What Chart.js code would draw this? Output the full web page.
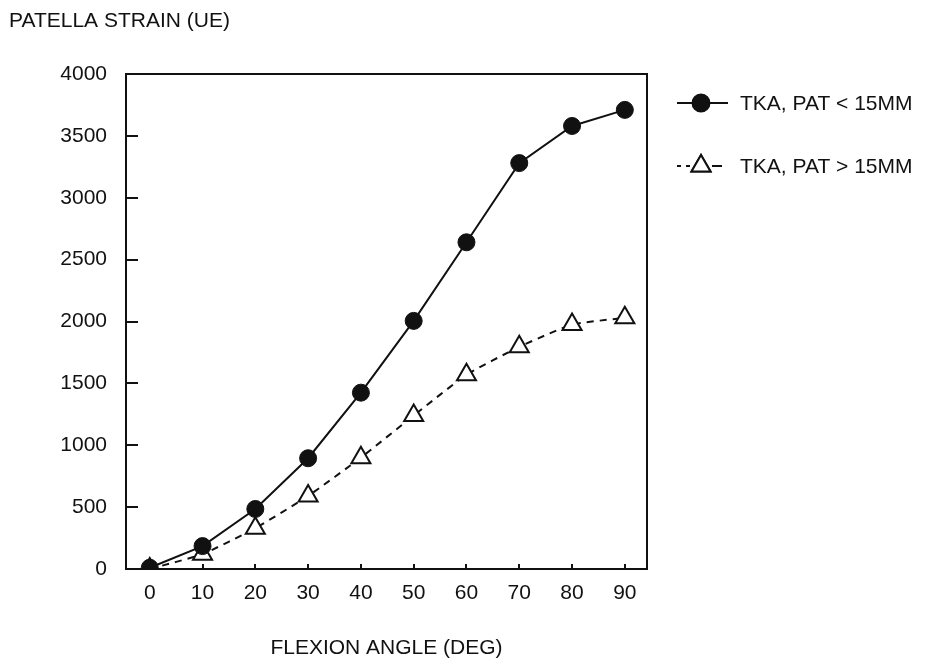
<!DOCTYPE html>
<html>
<head>
<meta charset="utf-8">
<script src="https://cdn.jsdelivr.net/npm/chart.js@4/dist/chart.umd.min.js"></script>
<style>
  html, body { margin: 0; padding: 0; background: #fff; }
  #grafica { display: block; }
</style>
</head>
<body>
<canvas id="grafica" width="928" height="664"></canvas>
<script>
// Datos
const angulos = [0, 10, 20, 30, 40, 50, 60, 70, 80, 90];
const strainMenor15 = [10, 185, 485, 895, 1425, 2005, 2640, 3280, 3580, 3710];
const strainMayor15 = [0, 120, 330, 590, 900, 1240, 1570, 1795, 1975, 2030];
const yTicks = [0, 500, 1000, 1500, 2000, 2500, 3000, 3500, 4000];
const etiquetas = ['TKA, PAT < 15MM', 'TKA, PAT > 15MM'];

const FUENTE = '"Liberation Sans", Arial, sans-serif';
const TAM = 21;
const NEGRO = '#111';

// puntos {x,y} a partir de los arrays
function aPuntos(valores) {
  return angulos.map((a, i) => ({ x: a, y: valores[i] }));
}

// Marco, marcas interiores, titulos y leyenda
const dibujoExtra = {
  id: 'dibujoExtra',
  afterDraw(chart) {
    const ctx = chart.ctx;
    const area = chart.chartArea;
    const sx = chart.scales.x;
    const sy = chart.scales.y;

    ctx.save();
    ctx.strokeStyle = NEGRO;
    ctx.lineWidth = 2;
    ctx.strokeRect(area.left, area.top, area.right - area.left, area.bottom - area.top);

    // marcas hacia dentro
    ctx.beginPath();
    yTicks.forEach(v => {
      const y = Math.round(sy.getPixelForValue(v));
      ctx.moveTo(area.left, y);
      ctx.lineTo(area.left + 12, y);
    });
    angulos.forEach(v => {
      const x = Math.round(sx.getPixelForValue(v));
      ctx.moveTo(x, area.bottom);
      ctx.lineTo(x, area.bottom - 5);
    });
    ctx.stroke();

    // titulos
    ctx.fillStyle = NEGRO;
    ctx.font = TAM + 'px ' + FUENTE;
    ctx.textBaseline = 'middle';
    ctx.textAlign = 'left';
    ctx.fillText('PATELLA STRAIN (UE)', 9, 21);
    ctx.textAlign = 'center';
    ctx.fillText('FLEXION ANGLE (DEG)', (area.left + area.right) / 2, 648);

    // leyenda
    const filas = [103, 166];
    chart.data.datasets.forEach((ds, i) => {
      const y = filas[i];
      ctx.beginPath();
      ctx.lineWidth = 2;
      ctx.strokeStyle = NEGRO;
      if (ds.borderDash) {
        ctx.moveTo(677, y); ctx.lineTo(681, y);
        ctx.moveTo(686, y); ctx.lineTo(690, y);
        ctx.moveTo(712, y); ctx.lineTo(722, y);
      } else {
        ctx.moveTo(677, y); ctx.lineTo(728, y);
      }
      ctx.stroke();
      Chart.helpers.drawPoint(ctx, {
        pointStyle: ds.pointStyle,
        radius: ds.pointRadius,
        borderWidth: ds.pointBorderWidth,
        rotation: 0
      }, 701, y);
      ctx.fillStyle = ds.pointBackgroundColor;
      ctx.strokeStyle = NEGRO;
      ctx.lineWidth = ds.pointBorderWidth;
      ctx.fill();
      ctx.stroke();
      ctx.fillStyle = NEGRO;
      ctx.textAlign = 'left';
      ctx.textBaseline = 'middle';
      ctx.font = TAM + 'px ' + FUENTE;
      ctx.fillText(ds.label, 740, y + 1);
    });
    ctx.restore();
  }
};

new Chart(document.getElementById('grafica'), {
  type: 'line',
  data: {
    datasets: [
      {
        label: etiquetas[0],
        data: aPuntos(strainMenor15),
        borderColor: NEGRO,
        borderWidth: 2,
        pointStyle: 'circle',
        pointRadius: 8.5,
        pointBackgroundColor: NEGRO,
        pointBorderColor: NEGRO,
        pointBorderWidth: 1,
        tension: 0,
        order: 0
      },
      {
        label: etiquetas[1],
        data: aPuntos(strainMayor15),
        borderColor: NEGRO,
        borderWidth: 2,
        borderDash: [7, 6],
        pointStyle: 'triangle',
        pointRadius: 11,
        pointBackgroundColor: '#fff',
        pointBorderColor: NEGRO,
        pointBorderWidth: 2,
        tension: 0.15,
        order: 1
      }
    ]
  },
  options: {
    responsive: false,
    animation: false,
    devicePixelRatio: 1,
    layout: { padding: { left: 0, top: 74, right: 281, bottom: 0 } },
    plugins: {
      legend: { display: false },
      tooltip: { enabled: false }
    },
    scales: {
      x: {
        type: 'linear',
        min: -4.5,
        max: 94.2,
        afterBuildTicks: s => { s.ticks = angulos.map(v => ({ value: v })); },
        afterFit: s => { s.height = 95; },
        grid: { display: false, drawTicks: false },
        border: { display: false },
        ticks: { color: NEGRO, padding: 12, font: { family: FUENTE, size: TAM }, maxRotation: 0,
                 callback: v => String(v) }
      },
      y: {
        min: 0,
        max: 4000,
        afterBuildTicks: s => { s.ticks = yTicks.map(v => ({ value: v })); },
        afterFit: s => { s.width = 126; },
        grid: { display: false, drawTicks: false },
        border: { display: false },
        ticks: { color: NEGRO, padding: 19, font: { family: FUENTE, size: TAM },
                 callback: v => String(v) }
      }
    }
  },
  plugins: [dibujoExtra]
});
</script>
</body>
</html>
